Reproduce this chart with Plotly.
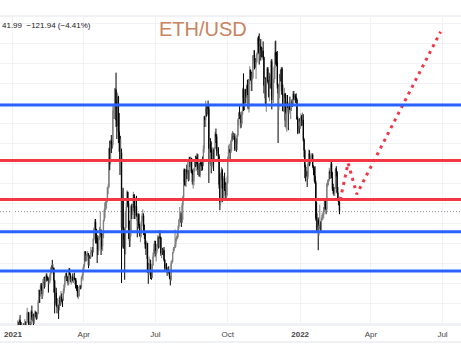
import plotly.graph_objects as go
import pandas as pd

# ---- daily ETH/USD data ----
c_2021_01 = [730,775,979,1042,1100,1208,1225,1224,1282,1262,1090,1044,1130,1218,1172,1233,1231,1258,1378,1382,1122,1234,1233,1392,1324,1362,1247,1331,1382,1378,1314]
h_2021_01 = [749,787,1011,1153,1132,1210,1282,1265,1301,1348,1264,1148,1139,1250,1245,1298,1270,1260,1440,1392,1384,1265,1266,1410,1468,1377,1365,1350,1410,1397,1380]
l_2021_01 = [717,715,770,900,986,1064,1172,1080,1163,1163,962,1030,1036,1110,1040,1150,1200,1170,1247,1290,1100,1105,1205,1225,1290,1270,1225,1240,1295,1320,1290]

c_2021_02 = [1370,1512,1661,1594,1720,1678,1613,1747,1769,1743,1785,1843,1815,1806,1780,1781,1848,1938,1960,1923,1935,1780,1570,1626,1475,1446,1460,1417]
h_2021_02 = [1376,1540,1670,1660,1745,1750,1698,1800,1825,1830,1810,1870,1870,1830,1820,1830,1870,1945,1976,2040,1985,1945,1786,1710,1690,1560,1540,1480]
l_2021_02 = [1300,1359,1500,1500,1580,1650,1550,1580,1720,1680,1700,1760,1770,1780,1630,1730,1750,1785,1876,1890,1860,1630,1370,1495,1460,1370,1425,1300]

c_2021_03 = [1570,1490,1576,1540,1534,1654,1724,1834,1869,1793,1826,1771,1924,1854,1792,1806,1823,1782,1813,1812,1781,1688,1679,1582,1588,1700,1716,1692,1819,1846,1919]
h_2021_03 = [1580,1595,1650,1620,1550,1680,1735,1840,1870,1880,1840,1840,1940,1935,1870,1810,1840,1870,1830,1880,1810,1810,1725,1725,1630,1710,1730,1720,1830,1860,1950]
l_2021_03 = [1410,1465,1480,1510,1450,1530,1620,1690,1810,1775,1750,1720,1730,1850,1760,1730,1750,1770,1750,1790,1730,1680,1650,1570,1550,1580,1680,1670,1680,1800,1780]

c_2021_04 = [1977,2143,2028,2093,2108,2118,1971,2088,2072,2135,2158,2140,2299,2432,2514,2423,2317,2235,2170,2332,2358,2405,2364,2211,2316,2535,2662,2747,2757,2773]
h_2021_04 = [1990,2150,2145,2110,2140,2150,2125,2100,2100,2200,2165,2200,2310,2445,2545,2550,2380,2350,2240,2340,2450,2645,2420,2370,2350,2540,2680,2760,2790,2800]
l_2021_04 = [1900,1950,2020,2020,2030,2080,1935,1970,2050,2060,2115,2080,2130,2280,2410,2245,2250,2000,2100,2150,2290,2320,2100,2170,2150,2310,2520,2560,2660,2680]

c_2021_05 = [2945,2950,3431,3253,3522,3490,3485,3903,3928,3953,4168,3785,3715,4080,3640,3587,3283,3380,2441,2780,2430,2296,2110,2640,2706,2889,2741,2422,2277,2392,2710]
h_2021_05 = [2950,2985,3440,3530,3540,3600,3530,3975,3960,4185,4190,4380,4030,4130,4090,3875,3590,3550,3430,2920,2940,2450,2380,2650,2750,2910,2890,2780,2530,2480,2720]
l_2021_05 = [2760,2860,2940,3160,3230,3375,3430,3460,3800,3800,3950,3700,3550,3710,3500,3390,3100,3350,1750,2200,2180,2180,1790,2120,2440,2690,2700,2300,2200,2200,2330]

c_2021_06 = [2633,2706,2855,2690,2630,2710,2590,2520,2610,2470,2365,2370,2510,2590,2590,2370,2370,2230,2180,2250,1890,1875,1970,1990,1830,1815,1970,2080,2170,2275]
h_2021_06 = [2740,2740,2890,2860,2820,2720,2840,2620,2620,2620,2490,2430,2520,2620,2670,2620,2480,2370,2270,2280,2250,2000,2080,2050,2040,1890,1990,2130,2240,2280]
l_2021_06 = [2550,2600,2650,2550,2550,2600,2580,2320,2450,2430,2330,2260,2320,2460,2530,2350,2300,2180,2100,2050,1880,1740,1850,1890,1800,1790,1830,1970,2070,2120]

c_2021_07 = [2110,2150,2230,2320,2200,2330,2320,2120,2150,2140,2160,2040,1940,1990,1915,1880,1900,1895,1820,1785,1995,2025,2125,2185,2190,2230,2300,2300,2380,2460,2540]
h_2021_07 = [2275,2160,2240,2350,2330,2410,2410,2320,2180,2190,2180,2200,2045,2010,2000,1950,1950,1960,1910,1840,2025,2040,2140,2200,2200,2420,2320,2340,2400,2470,2550]
l_2021_07 = [2080,2020,2120,2200,2180,2190,2300,2090,2060,2100,2100,2020,1900,1920,1890,1840,1850,1870,1800,1720,1780,1990,2010,2130,2150,2200,2200,2270,2300,2320,2430]

c_2021_08 = [2560,2610,2510,2720,2825,3160,3010,3010,3160,3140,3160,3040,3320,3260,3310,3150,3010,3020,3180,3290,3230,3320,3240,3170,3230,3100,3270,3230,3230,3225,3430]
h_2021_08 = [2700,2640,2630,2750,2840,3180,3180,3170,3180,3230,3260,3160,3330,3310,3330,3300,3170,3100,3190,3300,3340,3340,3370,3360,3250,3250,3290,3290,3250,3330,3470]
l_2021_08 = [2530,2500,2450,2500,2540,2800,2970,2960,2950,3050,3110,3020,3030,3200,3130,3120,2980,2930,2970,3140,3200,3150,3210,3100,3080,3080,3070,3210,3150,3160,3210]

c_2021_09 = [3830,3790,3940,3890,3950,3930,3430,3495,3430,3210,3270,3410,3290,3430,3610,3580,3400,3430,3330,2980,2760,3080,3160,2930,2930,3060,2930,2810,2850,3000]
h_2021_09 = [3840,3840,4030,3980,3970,4030,3970,3520,3560,3520,3300,3450,3430,3450,3640,3680,3610,3520,3450,3360,3110,3130,3200,3180,2990,3090,3130,3010,2980,3080]
l_2021_09 = [3380,3700,3700,3830,3840,3860,3000,3240,3380,3120,3180,3240,3150,3280,3420,3500,3340,3370,3300,2930,2660,2720,3030,2760,2810,2840,2900,2780,2780,2830]

c_2021_10 = [3310,3390,3420,3380,3520,3580,3590,3560,3580,3420,3530,3490,3600,3790,3870,3830,3850,3750,3880,4170,4060,3970,4170,4080,4220,4130,3930,4290,4410,4320,4290]
h_2021_10 = [3330,3470,3490,3420,3540,3620,3650,3630,3610,3620,3590,3560,3610,3810,3890,3960,3860,3890,3900,4190,4370,4170,4180,4170,4230,4290,4300,4300,4460,4420,4390]
l_2021_10 = [2990,3280,3380,3280,3380,3400,3520,3540,3540,3400,3410,3390,3410,3580,3720,3800,3680,3690,3730,3850,3900,3910,3960,4000,4060,4100,3920,3880,4240,4280,4150]

c_2021_11 = [4320,4590,4600,4530,4480,4520,4610,4810,4730,4630,4710,4670,4640,4650,4570,4220,4280,3990,4300,4430,4270,4080,4340,4270,4520,4040,4090,4300,4440,4630]
h_2021_11 = [4370,4600,4660,4660,4560,4540,4630,4820,4840,4870,4780,4800,4700,4690,4770,4580,4300,4320,4330,4450,4450,4290,4380,4370,4540,4550,4180,4300,4460,4770]
l_2021_11 = [4150,4300,4480,4420,4440,4300,4500,4600,4620,4480,4580,4530,4570,4570,4540,4120,4060,3960,3890,4230,4250,4070,4020,4180,4250,3920,4040,4000,4250,4300]

c_2021_12 = [4590,4510,4220,4120,4200,4360,4310,4430,4110,3900,4080,4120,3780,3860,4020,3960,3890,3960,3920,3940,4020,3980,4110,4050,4090,4070,4040,3800,3630,3710,3680]
h_2021_12 = [4780,4640,4650,4240,4240,4360,4420,4450,4450,4230,4090,4190,4120,3880,4100,4100,3950,4000,4080,3960,4040,4050,4150,4150,4120,4110,4120,4060,3830,3770,3810]
l_2021_12 = [4480,4460,4180,3500,3910,4060,4270,4150,4100,3900,3890,4060,3700,3680,3640,3940,3660,3860,3910,3800,3900,3950,3980,4040,4030,4000,4040,3790,3610,3620,3620]

c_2022_01 = [3770,3830,3760,3790,3540,3410,3200,3100,3150,3080,3240,3370,3250,3310,3330,3350,3210,3160,3090,3000,2560,2410,2540,2440,2460,2470,2420,2550,2600,2600,2690]
h_2022_01 = [3770,3870,3850,3880,3860,3560,3420,3230,3200,3150,3260,3420,3410,3340,3370,3370,3370,3220,3200,3210,3030,2760,2620,2570,2480,2730,2520,2570,2620,2640,2700]
l_2022_01 = [3680,3720,3710,3720,3520,3320,3060,3020,3080,2950,3050,3220,3210,3230,3280,3300,3190,3100,3020,2990,2530,2380,2420,2160,2340,2420,2380,2400,2530,2540,2560]

c_2022_02 = [2790,2680,2670,2990,3020,3050,3140,3120,3240,3080,2930,2920,2880,2930,3180,3130,2880,2790,2764,2642]
h_2022_02 = [2810,2800,2720,3000,3040,3050,3190,3160,3260,3280,3140,2990,2950,2950,3190,3210,3150,2950,2800,2770]
l_2022_02 = [2640,2670,2610,2650,2950,2970,3020,3050,3110,3060,2900,2860,2840,2840,2930,3080,2870,2770,2720,2610]

first_open = 737
start_date = "2021-01-01"

# horizontal levels
blue_levels = [3975, 2390, 1900]
red_levels = [3280, 2795]
last_price = 2642

# projected path (dotted)
proj_dates = ["2022-02-21", "2022-03-03", "2022-03-14", "2022-06-28 12:00"]
proj_prices = [2790, 3250, 2860, 4890]

# x-axis ticks
tick_dates = ["2021-01-01", "2021-04-01", "2021-07-01", "2021-10-01", "2022-01-01", "2022-04-01", "2022-07-01"]
tick_text = ["<b>2021</b>", "Apr", "Jul", "Oct", "<b>2022</b>", "Apr", "Jul"]

x_range = ["2020-12-15 12:00", "2022-07-24 12:00"]
y_range = [1225, 5087.5]

title_text = "ETH/USD"
info_text = "41.99  \u2212121.94 (\u22124.41%)"

# ---- assemble ----
closes = (c_2021_01 + c_2021_02 + c_2021_03 + c_2021_04 + c_2021_05 + c_2021_06 + c_2021_07
          + c_2021_08 + c_2021_09 + c_2021_10 + c_2021_11 + c_2021_12 + c_2022_01 + c_2022_02)
highs = (h_2021_01 + h_2021_02 + h_2021_03 + h_2021_04 + h_2021_05 + h_2021_06 + h_2021_07
         + h_2021_08 + h_2021_09 + h_2021_10 + h_2021_11 + h_2021_12 + h_2022_01 + h_2022_02)
lows = (l_2021_01 + l_2021_02 + l_2021_03 + l_2021_04 + l_2021_05 + l_2021_06 + l_2021_07
        + l_2021_08 + l_2021_09 + l_2021_10 + l_2021_11 + l_2021_12 + l_2022_01 + l_2022_02)
opens = [first_open] + closes[:-1]
dates = pd.date_range(start_date, periods=len(closes), freq="D")

BLUE = "#2962ff"
RED = "#f23645"
GRID = "#f0f2f5"
BORDER = "#e0e3eb"

fig = go.Figure()
fig.add_trace(go.Candlestick(
    x=dates, open=opens, high=highs, low=lows, close=closes,
    increasing=dict(line=dict(color="#7d7d7d", width=1), fillcolor="#7d7d7d"),
    decreasing=dict(line=dict(color="#000000", width=1), fillcolor="#000000"),
    whiskerwidth=0, showlegend=False, hoverinfo="skip",
))
fig.add_trace(go.Scatter(
    x=proj_dates, y=proj_prices, mode="lines",
    line=dict(color=RED, width=3, dash="3px,4.6px"),
    showlegend=False, hoverinfo="skip",
))

shapes = []
for lv in blue_levels:
    shapes.append(dict(type="line", xref="paper", yref="y", x0=0, x1=1, y0=lv, y1=lv,
                       line=dict(color=BLUE, width=3), layer="above"))
for lv in red_levels:
    shapes.append(dict(type="line", xref="paper", yref="y", x0=0, x1=1, y0=lv, y1=lv,
                       line=dict(color=RED, width=3), layer="above"))
shapes.append(dict(type="line", xref="paper", yref="y", x0=0, x1=1, y0=last_price, y1=last_price,
                   line=dict(color="#8a8e99", width=1, dash="1px,2px"), layer="below"))
# frame lines (top of pane, time-scale strip)
H_PLOT = 309
for yp in [1, 0, -17 / H_PLOT]:
    shapes.append(dict(type="line", xref="paper", yref="paper", x0=0, x1=1, y0=yp, y1=yp,
                       line=dict(color=BORDER, width=1), layer="below"))

fig.update_layout(
    width=461, height=364,
    margin=dict(l=0, r=0, t=16, b=39),
    paper_bgcolor="white", plot_bgcolor="white",
    shapes=shapes,
    xaxis=dict(range=x_range, type="date", rangeslider=dict(visible=False),
               tickvals=tick_dates, ticktext=tick_text, showgrid=True, gridcolor=GRID,
               gridwidth=1, zeroline=False, showline=False, ticks="", ticklabelstandoff=3,
               tickfont=dict(family="Liberation Sans, Arial, sans-serif", size=8, color="#444"),
               fixedrange=True),
    yaxis=dict(range=y_range, showgrid=True, gridcolor=GRID, gridwidth=1, dtick=250, tick0=0,
               showticklabels=False, zeroline=False, showline=False, ticks="", fixedrange=True),
    annotations=[
        dict(text=info_text, xref="paper", yref="paper", x=0, y=(325 - 26) / H_PLOT,
             xanchor="left", yanchor="middle", showarrow=False,
             font=dict(family="Liberation Sans, Arial, sans-serif", size=8, color="#222")),
        dict(text=title_text, xref="paper", yref="paper", x=202.5 / 461, y=(325 - 28.5) / H_PLOT,
             xanchor="center", yanchor="middle", showarrow=False,
             font=dict(family="Liberation Sans, Arial, sans-serif", size=20, color="#c8845e")),
    ],
)

fig.write_html("out.html")
